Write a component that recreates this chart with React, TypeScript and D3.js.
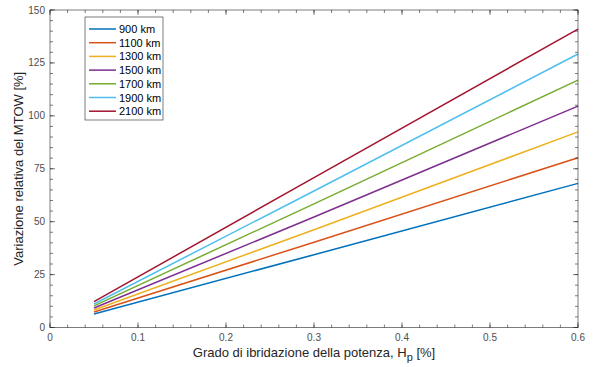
import React from "react";
import * as d3 from "d3";

const xPoints = [0.05, 0.3, 0.6];
const seriesNames = ["900 km", "1100 km", "1300 km", "1500 km", "1700 km", "1900 km", "2100 km"];
const s900 = [6.4, 34.4, 68.1];
const s1100 = [7.3, 40.3, 80.2];
const s1300 = [8.3, 46.2, 92.4];
const s1500 = [9.2, 52.2, 104.6];
const s1700 = [10.2, 58.4, 116.9];
const s1900 = [11.1, 64.5, 129.2];
const s2100 = [12.2, 70.8, 141.0];
const seriesValues = [s900, s1100, s1300, s1500, s1700, s1900, s2100];
const colors = ["#0072BD", "#D95319", "#EDB120", "#7E2F8E", "#77AC30", "#4DBEEE", "#A2142F"];
const xTicks = [0, 0.1, 0.2, 0.3, 0.4, 0.5, 0.6];
const yTicks = [0, 25, 50, 75, 100, 125, 150];

const W = 593, H = 367;
const L = 50, R = 578, T = 10, B = 327.5;
const font = "'Liberation Sans', Arial, Helvetica, sans-serif";

export default function App() {
  const x = d3.scaleLinear().domain([0, 0.6]).range([L, R]);
  const y = d3.scaleLinear().domain([0, 150]).range([B, T]);
  const line = d3.line<[number, number]>().x(d => x(d[0])).y(d => y(d[1]));
  const xMinor = d3.range(0, 0.6001, 0.02);
  const yMinor = d3.range(0, 150.01, 5);
  const axisColor = "#262626";
  const tickColor = "#4d4d4d";

  const legX = 85, legY = 17, legW = 78, legH = 103, legStep = 13.7;

  return (
    <svg width={W} height={H} style={{ position: "absolute", left: 0, top: 0 }}>
      <rect x={0} y={0} width={W} height={H} fill="#fff" />
      {seriesValues.map((vals, i) => (
        <path key={i} d={line(xPoints.map((xv, j) => [xv, vals[j]]) as [number, number][]) || ""}
          fill="none" stroke={colors[i]} strokeWidth={1.5} />
      ))}
      <rect x={L} y={T} width={R - L} height={B - T} fill="none" stroke={axisColor} strokeWidth={0.6} />
      {xMinor.map((v, i) => (
        <g key={"xm" + i}>
          <line x1={x(v)} x2={x(v)} y1={B} y2={B - 3} stroke={axisColor} strokeWidth={0.6} />
          <line x1={x(v)} x2={x(v)} y1={T} y2={T + 3} stroke={axisColor} strokeWidth={0.6} />
        </g>
      ))}
      {xTicks.map((v, i) => (
        <g key={"xt" + i}>
          <line x1={x(v)} x2={x(v)} y1={B} y2={B - 5} stroke={axisColor} strokeWidth={0.6} />
          <line x1={x(v)} x2={x(v)} y1={T} y2={T + 5} stroke={axisColor} strokeWidth={0.6} />
          <text x={x(v)} y={B + 13} textAnchor="middle" fontFamily={font} fontSize={10} fill={tickColor}>{v === 0 ? "0" : d3.format(".1f")(v)}</text>
        </g>
      ))}
      {yMinor.map((v, i) => (
        <g key={"ym" + i}>
          <line x1={L} x2={L + 3} y1={y(v)} y2={y(v)} stroke={axisColor} strokeWidth={0.6} />
          <line x1={R} x2={R - 3} y1={y(v)} y2={y(v)} stroke={axisColor} strokeWidth={0.6} />
        </g>
      ))}
      {yTicks.map((v, i) => (
        <g key={"yt" + i}>
          <line x1={L} x2={L + 5} y1={y(v)} y2={y(v)} stroke={axisColor} strokeWidth={0.6} />
          <line x1={R} x2={R - 5} y1={y(v)} y2={y(v)} stroke={axisColor} strokeWidth={0.6} />
          <text x={L - 5} y={y(v) + 3.5} textAnchor="end" fontFamily={font} fontSize={10} fill={tickColor}>{v}</text>
        </g>
      ))}
      <text x={(L + R) / 2} y={357} textAnchor="middle" fontFamily={font} fontSize={13} fill={axisColor}>
        Grado di ibridazione della potenza, H<tspan dy={4} fontSize={11}>p</tspan><tspan dy={-4}> [%]</tspan>
      </text>
      <text transform={`translate(23, ${(T + B) / 2}) rotate(-90)`} textAnchor="middle" fontFamily={font} fontSize={13} fill={axisColor}>
        Variazione relativa del MTOW [%]
      </text>
      <rect x={legX} y={legY} width={legW} height={legH} fill="#fff" stroke={axisColor} strokeWidth={0.6} />
      {seriesNames.map((n, i) => {
        const yy = legY + 12 + i * legStep;
        return (
          <g key={"lg" + i}>
            <line x1={89} x2={116} y1={yy} y2={yy} stroke={colors[i]} strokeWidth={1.5} />
            <text x={119} y={yy + 4} fontFamily={font} fontSize={11} fill="#000">{n}</text>
          </g>
        );
      })}
    </svg>
  );
}
